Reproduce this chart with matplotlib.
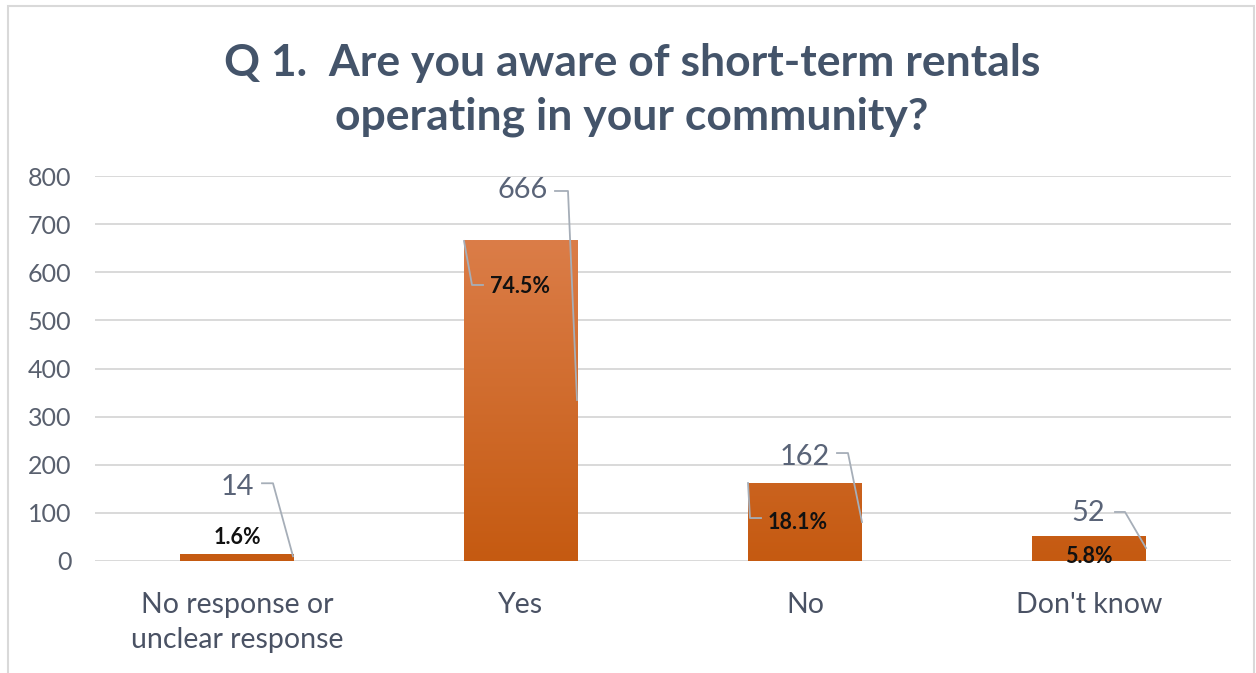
import matplotlib
matplotlib.use("Agg")
import matplotlib.pyplot as plt
import numpy as np
from matplotlib.patches import Rectangle
from matplotlib.colors import LinearSegmentedColormap

# ---- data ----
categories = ["No response or\nunclear response", "Yes", "No", "Don't know"]
counts = [14, 666, 162, 52]
percent_labels = ["1.6%", "74.5%", "18.1%", "5.8%"]
yticks = [0, 100, 200, 300, 400, 500, 600, 700, 800]
title = "Q 1.  Are you aware of short-term rentals\noperating in your community?"

# ---- layout (pixel offsets from bar-top centre; y positive = down) ----
count_label_off = [(0, -67), (1.5, -50.5), (-0.5, -26), (-1, -23)]
pct_label_off = [(0, -17), (-1, 46.5), (-7, 39), (0, 21)]
count_leaders = [
    [(25, -71), (36, -71), (56, 2)],
    [(34, -49.5), (47, -49.5), (56, 159.5)],
    [(32, -30), (43, -30), (57, 39)],
    [(26, -24), (36, -24), (57, 12)],
]
pct_leaders = [
    None,
    [(-38, 44.5), (-49, 44.5), (-57, 0.5)],
    [(-44, 35), (-55, 35), (-57, 0)],
    None,
]

plt.rcParams['font.family'] = ['Lato', 'DejaVu Sans']

W, H = 1256, 673
fig = plt.figure(figsize=(W / 100, H / 100), dpi=100)
fig.patch.set_facecolor("white")

ax_l, ax_r, ax_b, ax_t = 95, 1231, 561, 176
ax = fig.add_axes([ax_l / W, (H - ax_b) / H, (ax_r - ax_l) / W, (ax_b - ax_t) / H])
ax.set_xlim(-0.5, len(categories) - 0.5)
ax.set_ylim(0, 800)

px_x = (ax_r - ax_l) / len(categories)
px_y = (ax_b - ax_t) / 800.0

def off2data(i, v, dx, dy):
    return i + dx / px_x, v - dy / px_y

x = np.arange(len(categories))
bar_w = 0.4
cmap = LinearSegmentedColormap.from_list("og", ["#C55A11", "#DB7D48"])
bars = ax.bar(x, counts, width=bar_w, color="#D06A2B", zorder=2, linewidth=0)
for b in bars:
    bx, bw = b.get_x(), b.get_width()
    grad = np.linspace(0, 1, 256).reshape(-1, 1)
    im = ax.imshow(grad, cmap=cmap, origin="lower", aspect="auto",
                   extent=[bx, bx + bw, 0, max(counts)], zorder=2.1)
    im.set_clip_path(b)
ax.set_xlim(-0.5, len(categories) - 0.5)
ax.set_ylim(0, 800)

ax.set_yticks(yticks)
ax.set_yticklabels([str(t) for t in yticks])
ax.set_xticks(x)
ax.set_xticklabels(categories)
ax.grid(axis="y", color="#D9D9D9", linewidth=1.4, zorder=0)
ax.set_axisbelow(True)
for s in ax.spines.values():
    s.set_visible(False)
ax.tick_params(axis="y", length=0, labelsize=18, pad=17)
ax.tick_params(axis="x", length=0, labelsize=20.5, pad=22)
for lab in ax.get_xticklabels():
    lab.set_color("#4A5264")
    lab.set_linespacing(1.45)
for lab in ax.get_yticklabels():
    lab.set_color("#59606E")

lead_col = "#A6AEB8"
for i, v in enumerate(counts):
    dx, dy = count_label_off[i]
    tx, ty = off2data(i, v, dx, dy)
    ax.text(tx, ty, str(v), ha="center", va="center", fontsize=20.8,
            color="#5A6478", zorder=5)
    dx, dy = pct_label_off[i]
    tx, ty = off2data(i, v, dx, dy)
    ax.text(tx, ty, percent_labels[i], ha="center", va="center", fontsize=15.5,
            fontweight="bold", color="#111111", zorder=5)
    pts = [off2data(i, v, a, b) for a, b in count_leaders[i]]
    ax.plot([p[0] for p in pts], [p[1] for p in pts], color=lead_col,
            linewidth=1.3, zorder=4, clip_on=False)
    if pct_leaders[i] is not None:
        pts = [off2data(i, v, a, b) for a, b in pct_leaders[i]]
        ax.plot([p[0] for p in pts], [p[1] for p in pts], color=lead_col,
                linewidth=1.3, zorder=4, clip_on=False)

fig.text(632 / W, 1 - 90 / H, title, ha="center", va="center", fontsize=32,
         fontweight="bold", color="#44546A", linespacing=1.42)

fig.add_artist(Rectangle((8 / W, -0.01), (1254 - 8) / W, (H - 6) / H + 0.01,
                         transform=fig.transFigure, fill=False,
                         edgecolor="#D9D9D9", linewidth=1.5))

fig.savefig("out.png", dpi=100, facecolor="white")
